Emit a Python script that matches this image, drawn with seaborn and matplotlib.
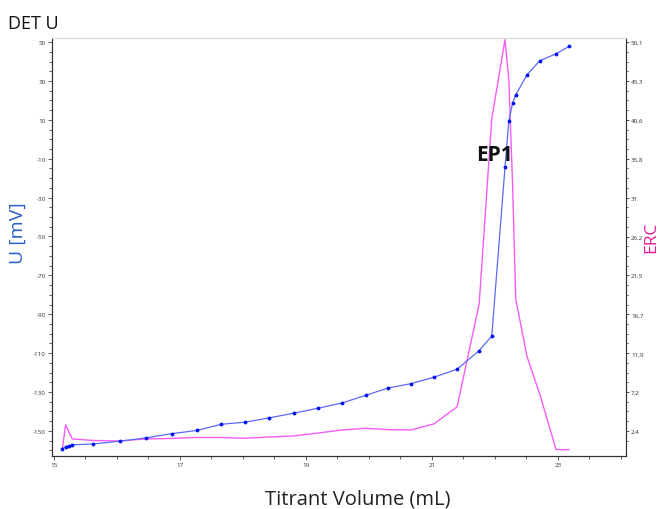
import matplotlib
matplotlib.use("Agg")
import matplotlib.pyplot as plt
from matplotlib.ticker import MultipleLocator, FixedLocator
import seaborn as sns
import pandas as pd

# ---- data ----
volume = [15.137, 15.19, 15.243, 15.295, 15.629, 16.052, 16.465, 16.878, 17.27,
          17.66, 18.04, 18.42, 18.81, 19.20, 19.58, 19.96, 20.31, 20.67, 21.03,
          21.40, 21.75, 21.95, 22.16, 22.22, 22.28, 22.33, 22.51, 22.71, 22.97, 23.18]
u_mv = [-159.3, -158.1, -157.7, -157.2, -156.7, -155.3, -153.6, -151.4, -149.8,
        -146.6, -145.5, -143.3, -140.9, -138.3, -135.6, -131.6, -127.9, -125.7, -122.4,
        -118.3, -108.7, -101.2, -14.4, 9.2, 18.6, 22.9, 33.2, 40.4, 44.0, 47.9]
erc = [0.19, 3.14, 2.28, 1.42, 1.23, 1.17, 1.42, 1.48, 1.60,
       1.60, 1.50, 1.66, 1.79, 2.15, 2.52, 2.73, 2.56, 2.52, 3.26,
       5.35, 17.98, 40.69, 50.4, 45.5, 32.7, 18.6, 11.5, 6.94, 0.11, 0.11]

x_ticks = [15, 17, 19, 21, 23]
u_ticks = [50, 30, 10, -10, -30, -50, -70, -90, -110, -130, -150]
erc_ticks = [2.4, 7.2, 11.9, 16.7, 21.5, 26.2, 31, 35.8, 40.6, 45.3, 50.1]
erc_tick_labels = ["2,4", "7,2", "11,9", "16,7", "21,5", "26,2", "31", "35,8", "40,6", "45,3", "50,1"]

df = pd.DataFrame({"Volume": volume, "U": u_mv, "ERC": erc})

sns.set_style("white")
plt.rcParams['font.family'] = ['Open Sans', 'DejaVu Sans']

fig = plt.figure(figsize=(6.59, 5.10), dpi=100)
ax = fig.add_axes([0.079, 0.104, 0.871, 0.8195])
ax2 = ax.twinx()

sns.lineplot(data=df, x="Volume", y="ERC", ax=ax2, color="#f55cf5", linewidth=1.0, zorder=1)
sns.lineplot(data=df, x="Volume", y="U", ax=ax, color="#5a6af5", linewidth=0.9,
             marker="o", markersize=2.0, markerfacecolor="#0010ee", markeredgecolor="#0010ee", zorder=3)

ax.set_zorder(ax2.get_zorder() + 1)
ax.patch.set_visible(False)

ax.set_xlim(14.975, 24.08)
ax.set_ylim(-162.9, 52.1)
ax2.set_ylim(-0.67, 50.6)

ax.set_xticks(x_ticks)
ax.set_xticklabels([str(t) for t in x_ticks])
ax.xaxis.set_minor_locator(MultipleLocator(0.5))
ax.set_yticks(u_ticks)
ax.set_yticklabels([str(t) for t in u_ticks])
ax.yaxis.set_minor_locator(MultipleLocator(5))
ax2.set_yticks(erc_ticks)
ax2.set_yticklabels(erc_tick_labels)
ax2.yaxis.set_minor_locator(FixedLocator([2.4 + i * 4.77 / 4 for i in range(-1, 42)]))

for a in (ax, ax2):
    a.tick_params(which="both", labelsize=4.5, color="#444444", length=3, width=0.6, pad=1.5,
                  labelcolor="#333333")
    a.tick_params(which="minor", length=2)
ax.tick_params(axis="x", which="both", bottom=True, direction="out")
ax.tick_params(axis="y", which="both", left=True, direction="out")
ax2.tick_params(axis="y", which="both", right=True, direction="out", length=2.5, pad=1)
ax2.tick_params(axis="y", which="minor", length=1.5)

for a in (ax, ax2):
    for s in a.spines.values():
        s.set_linewidth(0.8)
    a.spines["top"].set_color("#d8d8d8")
    a.spines["left"].set_color("#333333")
    a.spines["bottom"].set_color("#333333")
    a.spines["right"].set_color("#333333")

ax.set_xlabel("")
ax.set_ylabel("")
ax2.set_ylabel("")

fig.text(0.543, 0.02, "Titrant Volume (mL)", fontsize=14.5, color="#222222", ha="center", va="center")
fig.text(0.027, 0.543, "U [mV]", fontsize=14, color="#2a5fc4", ha="center", va="center", rotation=90)
fig.text(0.988, 0.535, "ERC", fontsize=12.5, color="#e8199a", ha="center", va="center", rotation=90)

ax.text(21.70, -7.6, "EP1", fontsize=15, fontweight="bold", color="#111111",
        ha="left", va="center", zorder=5)

fig.text(0.012, 0.953, "DET U", fontsize=13, color="#111111", ha="left", va="center")

fig.savefig("out.png", dpi=100)
